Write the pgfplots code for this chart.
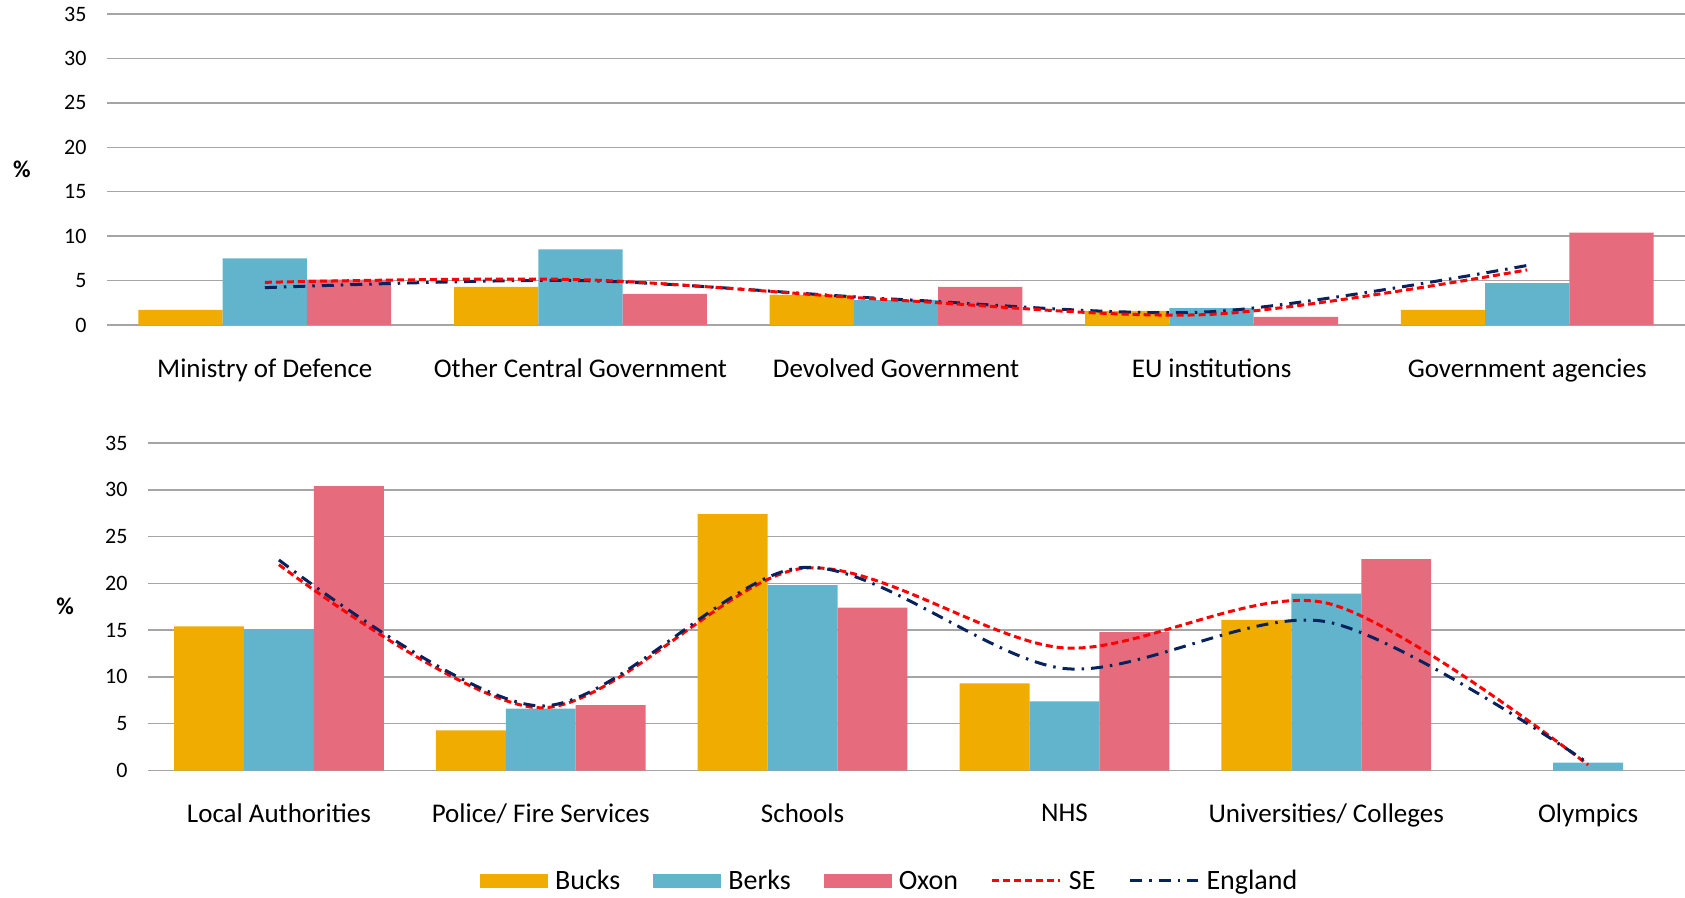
\documentclass[border=0pt]{standalone}
\usepackage{pgfplots}
\pgfplotsset{compat=1.18}
\usepackage{fontspec}
\setmainfont{Carlito}
\definecolor{bucks}{RGB}{240,172,0}
\definecolor{berks}{RGB}{98,180,204}
\definecolor{oxon}{RGB}{230,108,125}
\definecolor{seline}{RGB}{255,0,0}
\definecolor{engline}{RGB}{8,34,94}
\definecolor{gridc}{RGB}{165,165,165}
\pgfplotsset{
  mystyle/.style={
    scale only axis,
    anchor=south west,
    ymin=0, ymax=35,
    ytick={0,5,...,35},
    xtick=data,
    major tick length=0pt,
    axis line style={draw=none},
    ymajorgrids,
    grid style={gridc, line width=1.5pt},
    /pgf/number format/assume math mode=true,
    yticklabel style={font=\fontsize{22}{24}\selectfont, xshift=-17pt},
    xticklabel style={font=\fontsize{27}{30}\selectfont, yshift=-30pt},
    every axis y label/.style={at={(axis description cs:-0.054,0.5)}, anchor=center, font=\fontsize{24}{26}\selectfont\bfseries},
    ylabel={\%},
    clip=false,
  },
  barB/.style={ybar, bar width=0.267, bar shift=-0.267, fill=bucks, draw=none},
  barK/.style={ybar, bar width=0.267, bar shift=0, fill=berks, draw=none},
  barO/.style={ybar, bar width=0.267, bar shift=0.267, fill=oxon, draw=none},
  lineSE/.style={smooth, tension=0.5, seline, line width=3pt, dash pattern=on 7pt off 4pt, no marks},
  lineEN/.style={smooth, tension=0.5, engline, line width=3pt, dash pattern=on 12pt off 7pt on 2.5pt off 7pt, no marks},
  legB/.style={legend image code/.code={\fill[bucks] (0pt,-7pt) rectangle (68pt,7pt);}},
  legK/.style={legend image code/.code={\fill[berks] (0pt,-7pt) rectangle (68pt,7pt);}},
  legO/.style={legend image code/.code={\fill[oxon] (0pt,-7pt) rectangle (68pt,7pt);}},
  legSE/.style={legend image code/.code={\draw[seline, line width=3pt, dash pattern=on 7pt off 4pt] (0pt,0pt) -- (68pt,0pt);}},
  legEN/.style={legend image code/.code={\draw[engline, line width=3pt, dash pattern=on 12pt off 7pt on 2.5pt off 7pt] (0pt,0pt) -- (68pt,0pt);}},
}
\begin{document}
\begin{tikzpicture}
\path[use as bounding box] (0,0) rectangle (1685pt,897pt);
% top axis
\begin{axis}[mystyle,
  at={(107pt,572pt)}, width=1578pt, height=311pt,
  xmin=-0.5, xmax=4.5,
  xticklabels={Ministry of Defence, Other Central Government, Devolved Government, EU institutions, Government agencies},
]
\addplot[barB] coordinates {(0,1.7) (1,4.3) (2,3.4) (3,1.6) (4,1.7)};
\addplot[barK] coordinates {(0,7.5) (1,8.5) (2,2.8) (3,1.9) (4,4.7)};
\addplot[barO] coordinates {(0,5.1) (1,3.5) (2,4.3) (3,0.9) (4,10.4)};
\addplot[lineEN] coordinates {(0,4.2) (1,5.0) (2,2.9) (3,1.5) (4,6.7)};
\addplot[lineSE] coordinates {(0,4.8) (1,5.1) (2,2.8) (3,1.2) (4,6.2)};
\end{axis}
% bottom axis
\begin{axis}[mystyle,
  at={(148pt,126.5pt)}, width=1537pt, height=327.5pt,
  xmin=-0.5, xmax=5.37,
  xtick={0,1,2,3,4,5},
  xticklabels={Local Authorities, Police/ Fire Services, Schools, NHS, Universities/ Colleges, Olympics},
  legend columns=5,
  legend style={at={(axis description cs:0.216,-0.337)}, anchor=west, draw=none, inner sep=0pt,
    font=\fontsize{28}{30}\selectfont,
    nodes={inner sep=3pt},
    /tikz/every odd column/.append style={column sep=4pt},
    /tikz/every even column/.append style={column sep=30pt}},
]
\addplot[barB, legB] coordinates {(0,15.4) (1,4.3) (2,27.4) (3,9.3) (4,16.1)};
\addlegendentry{Bucks}
\addplot[barK, legK] coordinates {(0,15.1) (1,6.6) (2,19.8) (3,7.4) (4,18.9) (5,0.85)};
\addlegendentry{Berks}
\addplot[barO, legO] coordinates {(0,30.4) (1,7.0) (2,17.4) (3,14.8) (4,22.6)};
\addlegendentry{Oxon}
\addplot[lineSE, legSE] coordinates {(0,22.0) (1,6.7) (2,21.6) (3,13.1) (4,17.9) (5,0.6)};
\addlegendentry{SE}
\addplot[lineEN, legEN] coordinates {(0,22.5) (1,6.9) (2,21.7) (3,10.9) (4,15.9) (5,0.8)};
\addlegendentry{England}
\end{axis}
\end{tikzpicture}
\end{document}
